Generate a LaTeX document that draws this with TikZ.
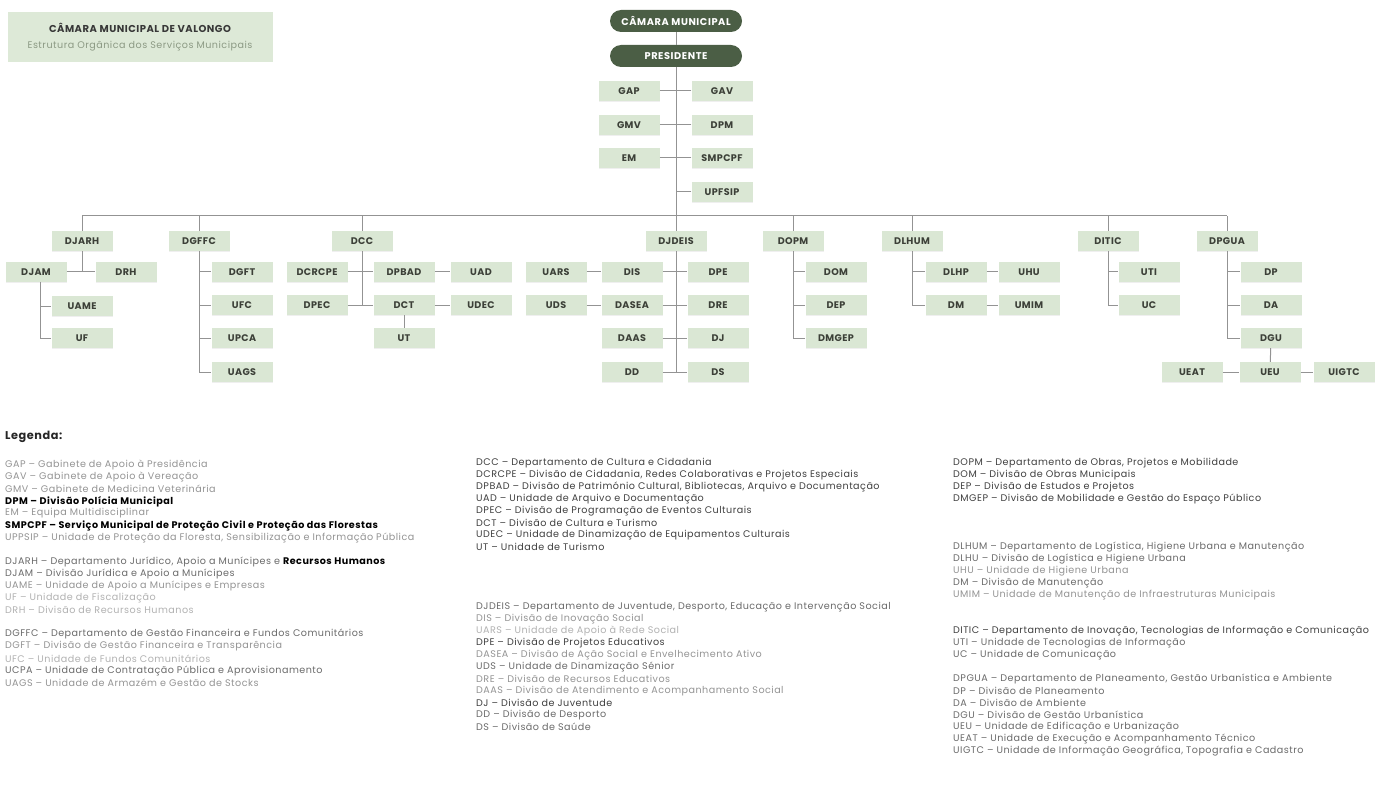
\documentclass[tikz,border=0pt]{standalone}
\usepackage{fontspec}
\setmainfont{Poppins}
\newfontfamily\legfont{Poppins}[LetterSpace=5]
\newfontfamily\boxfont{Poppins}[LetterSpace=4]
\newfontfamily\pillfont{Poppins}[LetterSpace=6]
\usetikzlibrary{shadows}
\definecolor{boxg}{HTML}{DAE7D4}
\definecolor{titleg}{HTML}{DDE9D7}
\definecolor{pillg}{HTML}{4B5E45}
\definecolor{boxt}{HTML}{3C4038}
\definecolor{lineg}{HTML}{939393}
\definecolor{subt}{HTML}{8C9A84}
\begin{document}
\begin{tikzpicture}[x=1pt,y=-1pt,
  box/.style={fill=boxg, minimum width=61, minimum height=20, inner sep=0, text=boxt, font=\boxfont\fontsize{9.6}{10}\selectfont\bfseries,
     drop shadow={shadow xshift=0.8pt, shadow yshift=-0.8pt, opacity=0.12}},
  pill/.style={fill=pillg, rounded corners=11, minimum width=132, minimum height=22, inner sep=0, text=white, font=\pillfont\fontsize{9.8}{10}\selectfont\bfseries},
  conn/.style={draw=lineg, line width=1},
  leg/.style={anchor=west, inner sep=0, font=\legfont\fontsize{9.6}{10}\selectfont},
  lk/.style={leg, text=black, font=\legfont\fontsize{9.6}{10}\selectfont\bfseries},
  ld/.style={leg, text=black!75},
  lm/.style={leg, text=black!58},
  ll/.style={leg, text=black!42},
  lv/.style={leg, text=black!30},
]
\useasboundingbox (0,0) rectangle (1382,805);
\fill[white] (0,0) rectangle (1382,805);

% title
\node[fill=titleg, minimum width=265, minimum height=50, inner sep=0] (title) at (140.5,37) {};
\node[inner sep=0, text=black!78, font=\legfont\fontsize{10}{11}\selectfont\bfseries] (t1) at (140,28) {CÂMARA MUNICIPAL DE VALONGO};
\node[inner sep=0, text=subt, font=\legfont\fontsize{9.6}{11}\selectfont] (t2) at (140,46) {Estrutura Orgânica dos Serviços Municipais};

% top
\node[pill] (cm) at (676,21) {CÂMARA MUNICIPAL};
\node[pill] (pres) at (676,56) {PRESIDENTE};
\node[box] (gap) at (629,91) {GAP};
\node[box] (gav) at (722,91) {GAV};
\node[box] (gmv) at (629,125) {GMV};
\node[box] (dpm) at (722,125) {DPM};
\node[box] (em) at (629,158) {EM};
\node[box] (smpcpf) at (722,158) {SMPCPF};
\node[box] (upfsip) at (722,192) {UPFSIP};
\coordinate (busc) at (676,216);
\coordinate (busl) at (82,216);
\coordinate (busr) at (1227,216);

% departments
\node[box] (djarh) at (82,241) {DJARH};
\node[box] (dgffc) at (199,241) {DGFFC};
\node[box] (dcc) at (362,241) {DCC};
\node[box] (djdeis) at (676,241) {DJDEIS};
\node[box] (dopm) at (793,241) {DOPM};
\node[box] (dlhum) at (912,241) {DLHUM};
\node[box] (ditic) at (1108,241) {DITIC};
\node[box] (dpgua) at (1227,241) {DPGUA};

% DJARH
\node[box] (djam) at (36,272) {DJAM};
\node[box] (drh) at (126,272) {DRH};
\node[box] (uame) at (82,306) {UAME};
\node[box] (uf) at (82,338) {UF};
\coordinate (djamst) at (40,282);
% DGFFC
\node[box] (dgft) at (242,272) {DGFT};
\node[box] (ufc) at (242,305) {UFC};
\node[box] (upca) at (242,338) {UPCA};
\node[box] (uags) at (242,372) {UAGS};
% DCC
\node[box] (dcrcpe) at (317,272) {DCRCPE};
\node[box] (dpbad) at (404,272) {DPBAD};
\node[box] (uad) at (481,272) {UAD};
\node[box] (dpec) at (317,305) {DPEC};
\node[box] (dct) at (404,305) {DCT};
\node[box] (udec) at (481,305) {UDEC};
\node[box] (ut) at (404,338) {UT};
% DJDEIS
\node[box] (uars) at (556,272) {UARS};
\node[box] (dis) at (632,272) {DIS};
\node[box] (dpe) at (718,272) {DPE};
\node[box] (uds) at (556,305) {UDS};
\node[box] (dasea) at (632,305) {DASEA};
\node[box] (dre) at (718,305) {DRE};
\node[box] (daas) at (632,338) {DAAS};
\node[box] (dj) at (718,338) {DJ};
\node[box] (dd) at (632,372) {DD};
\node[box] (ds) at (718,372) {DS};
% DOPM
\node[box] (dom) at (836,272) {DOM};
\node[box] (dep) at (836,305) {DEP};
\node[box] (dmgep) at (836,338) {DMGEP};
% DLHUM
\node[box] (dlhp) at (956,272) {DLHP};
\node[box] (uhu) at (1029,272) {UHU};
\node[box] (dm) at (956,305) {DM};
\node[box] (umim) at (1029,305) {UMIM};
% DITIC
\node[box] (uti) at (1149,272) {UTI};
\node[box] (uc) at (1149,305) {UC};
% DPGUA
\node[box] (dp) at (1271,272) {DP};
\node[box] (da) at (1271,305) {DA};
\node[box] (dgu) at (1271,338) {DGU};
\node[box] (ueat) at (1192,372) {UEAT};
\node[box] (ueu) at (1270,372) {UEU};
\node[box] (uigtc) at (1344,372) {UIGTC};

% connectors
\draw[conn] (cm) -- (pres);
\draw[conn] (pres.south) -- (busc);
\draw[conn] (gap) -- (gap -| busc);
\draw[conn] (gav) -- (gav -| busc);
\draw[conn] (gmv) -- (gmv -| busc);
\draw[conn] (dpm) -- (dpm -| busc);
\draw[conn] (em) -- (em -| busc);
\draw[conn] (smpcpf) -- (smpcpf -| busc);
\draw[conn] (upfsip) -- (upfsip -| busc);
\draw[conn] (busl) -- (busr);
\foreach \d in {djarh,dgffc,dcc,djdeis,dopm,dlhum,ditic,dpgua}
  \draw[conn] (\d.north) -- (\d.north |- busc);

\draw[conn] (djam) -- (drh);
\draw[conn] (djarh.south) -- (djarh.south |- drh);
\draw[conn] (djamst) |- (uf.west);
\draw[conn] (djamst |- uame) -- (uame.west);

\draw[conn] (dgffc.south) |- (uags.west);
\draw[conn] (dgffc.south |- dgft) -- (dgft.west);
\draw[conn] (dgffc.south |- ufc) -- (ufc.west);
\draw[conn] (dgffc.south |- upca) -- (upca.west);

\draw[conn] (dcc.south) -- (dcc.south |- dct);
\draw[conn] (dcrcpe) -- (dpbad);
\draw[conn] (dpec) -- (dct);
\draw[conn] (dpbad) -- (uad);
\draw[conn] (dct) -- (udec);
\draw[conn] (dct) -- (ut);

\draw[conn] (djdeis.south) -- (djdeis.south |- dd);
\draw[conn] (dis) -- (dpe);
\draw[conn] (dasea) -- (dre);
\draw[conn] (daas) -- (dj);
\draw[conn] (dd) -- (ds);
\draw[conn] (uars) -- (dis);
\draw[conn] (uds) -- (dasea);

\draw[conn] (dopm.south) |- (dmgep.west);
\draw[conn] (dopm.south |- dom) -- (dom.west);
\draw[conn] (dopm.south |- dep) -- (dep.west);

\draw[conn] (dlhum.south) |- (dm.west);
\draw[conn] (dlhum.south |- dlhp) -- (dlhp.west);
\draw[conn] (dlhp) -- (uhu);
\draw[conn] (dm) -- (umim);

\draw[conn] (ditic.south) |- (uc.west);
\draw[conn] (ditic.south |- uti) -- (uti.west);

\draw[conn] (dpgua.south) |- (dgu.west);
\draw[conn] (dpgua.south |- dp) -- (dp.west);
\draw[conn] (dpgua.south |- da) -- (da.west);
\draw[conn] (dgu) -- (ueu);
\draw[conn] (ueat) -- (ueu);
\draw[conn] (ueu) -- (uigtc);

% legend
\node[anchor=west, inner sep=0, text=black!85, font=\legfont\fontsize{11.3}{12}\selectfont\bfseries] (leg) at (5,437) {Legenda:};

% column 1
\node[ll] (a1) at (5,465) {GAP – Gabinete de Apoio à Presidência};
\node[ll] (a2) at (5,477.1) {GAV – Gabinete de Apoio à Vereação};
\node[ll] (a3) at (5,489.2) {GMV – Gabinete de Medicina Veterinária};
\node[lk] (a4) at (5,501.3) {DPM – Divisão Polícia Municipal};
\node[ll] (a5) at (5,513.4) {EM – Equipa Multidisciplinar};
\node[lk] (a6) at (5,525.5) {SMPCPF – Serviço Municipal de Proteção Civil e Proteção das Florestas};
\node[ll] (a7) at (5,537.6) {UPPSIP – Unidade de Proteção da Floresta, Sensibilização e Informação Pública};
\node[lm] (a8) at (5,561.8) {DJARH – Departamento Jurídico, Apoio a Munícipes e \textcolor{black}{\bfseries Recursos Humanos}};
\node[lm] (a9) at (5,573.9) {DJAM – Divisão Jurídica e Apoio a Munícipes};
\node[ll] (a10) at (5,586) {UAME – Unidade de Apoio a Munícipes e Empresas};
\node[lv] (a11) at (5,598.1) {UF – Unidade de Fiscalização};
\node[lv] (a12) at (5,610.2) {DRH – Divisão de Recursos Humanos};
\node[lm] (a13) at (5,634.4) {DGFFC – Departamento de Gestão Financeira e Fundos Comunitários};
\node[ll] (a14) at (5,646.5) {DGFT – Divisão de Gestão Financeira e Transparência};
\node[lv] (a15) at (5,658.6) {UFC – Unidade de Fundos Comunitários};
\node[lm] (a16) at (5,670.7) {UCPA – Unidade de Contratação Pública e Aprovisionamento};
\node[ll] (a17) at (5,682.8) {UAGS – Unidade de Armazém e Gestão de Stocks};

% column 2
\node[ld] (b1) at (476,463) {DCC – Departamento de Cultura e Cidadania};
\node[ld] (b2) at (476,475) {DCRCPE – Divisão de Cidadania, Redes Colaborativas e Projetos Especiais};
\node[ld] (b3) at (476,487) {DPBAD – Divisão de Património Cultural, Bibliotecas, Arquivo e Documentação};
\node[ld] (b4) at (476,499) {UAD – Unidade de Arquivo e Documentação};
\node[ld] (b5) at (476,511) {DPEC – Divisão de Programação de Eventos Culturais};
\node[ld] (b6) at (476,523) {DCT – Divisão de Cultura e Turismo};
\node[ld] (b7) at (476,535) {UDEC – Unidade de Dinamização de Equipamentos Culturais};
\node[ld] (b8) at (476,547) {UT – Unidade de Turismo};
\node[lm] (b9) at (476,607) {DJDEIS – Departamento de Juventude, Desporto, Educação e Intervenção Social};
\node[ll] (b10) at (476,619) {DIS – Divisão de Inovação Social};
\node[lv] (b11) at (476,631) {UARS – Unidade de Apoio à Rede Social};
\node[ld] (b12) at (476,643) {DPE – Divisão de Projetos Educativos};
\node[ll] (b13) at (476,655) {DASEA – Divisão de Ação Social e Envelhecimento Ativo};
\node[lm] (b14) at (476,667) {UDS – Unidade de Dinamização Sénior};
\node[ll] (b15) at (476,679) {DRE – Divisão de Recursos Educativos};
\node[ll] (b16) at (476,691) {DAAS – Divisão de Atendimento e Acompanhamento Social};
\node[ld] (b17) at (476,703) {DJ – Divisão de Juventude};
\node[lm] (b18) at (476,715) {DD – Divisão de Desporto};
\node[lm] (b19) at (476,727) {DS – Divisão de Saúde};

% column 3
\node[ld] (c1) at (953,463) {DOPM – Departamento de Obras, Projetos e Mobilidade};
\node[ld] (c2) at (953,475) {DOM – Divisão de Obras Municipais};
\node[ld] (c3) at (953,487) {DEP – Divisão de Estudos e Projetos};
\node[ld] (c4) at (953,499) {DMGEP – Divisão de Mobilidade e Gestão do Espaço Público};
\node[lm] (c5) at (953,547) {DLHUM – Departamento de Logística, Higiene Urbana e Manutenção};
\node[lm] (c6) at (953,559) {DLHU – Divisão de Logística e Higiene Urbana};
\node[ll] (c7) at (953,571) {UHU – Unidade de Higiene Urbana};
\node[lm] (c8) at (953,583) {DM – Divisão de Manutenção};
\node[ll] (c9) at (953,595) {UMIM – Unidade de Manutenção de Infraestruturas Municipais};
\node[ld] (c10) at (953,631) {DITIC – Departamento de Inovação, Tecnologias de Informação e Comunicação};
\node[lm] (c11) at (953,643) {UTI – Unidade de Tecnologias de Informação};
\node[lm] (c12) at (953,655) {UC – Unidade de Comunicação};
\node[lm] (c13) at (953,679) {DPGUA – Departamento de Planeamento, Gestão Urbanística e Ambiente};
\node[lm] (c14) at (953,691) {DP – Divisão de Planeamento};
\node[lm] (c15) at (953,703) {DA – Divisão de Ambiente};
\node[lm] (c16) at (953,715) {DGU – Divisão de Gestão Urbanística};
\node[lm] (c17) at (953,727) {UEU – Unidade de Edificação e Urbanização};
\node[lm] (c18) at (953,739) {UEAT – Unidade de Execução e Acompanhamento Técnico};
\node[lm] (c19) at (953,751) {UIGTC – Unidade de Informação Geográfica, Topografia e Cadastro};
\end{tikzpicture}
\end{document}
